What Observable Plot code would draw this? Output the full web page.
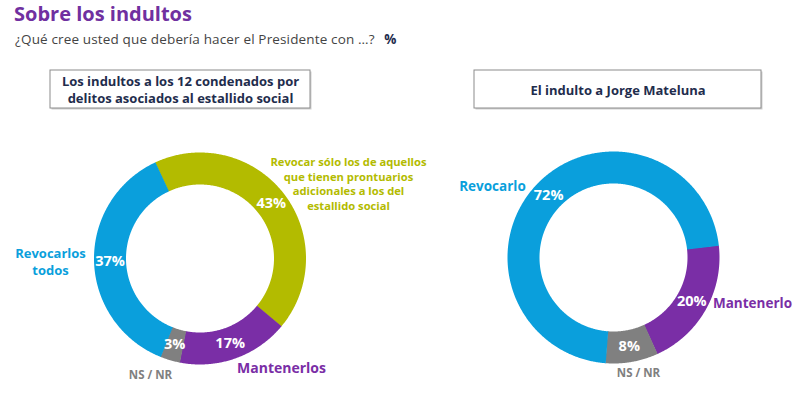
<!DOCTYPE html>
<html><head><meta charset="utf-8">
<script src="https://cdn.jsdelivr.net/npm/d3@7"></script>
<script src="https://cdn.jsdelivr.net/npm/@observablehq/plot@0.6"></script>
<style>
body{margin:0;background:#fff;font-family:"Open Sans",sans-serif;}
#head{height:56px;position:relative;}
#title{position:absolute;left:14px;top:0px;font-size:20px;font-weight:700;color:#7030a0;letter-spacing:0px;}
#subtitle{position:absolute;left:15px;top:30px;font-size:13.5px;color:#444;letter-spacing:0.15px;}
#subtitle b{color:#1f2d4d;margin-left:6px;}
</style></head>
<body>
<div id="head">
  <div id="title">Sobre los indultos</div>
  <div id="subtitle">¿Qué cree usted que debería hacer el Presidente con …? <b>%</b></div>
</div>
<div id="chart"></div>
<script>
// ---- data ----
const leftTitle = "Los indultos a los 12 condenados por\ndelitos asociados al estallido social";
const leftCategories = ["Revocar sólo los de aquellos\nque tienen prontuarios\nadicionales a los del\nestallido social", "Mantenerlos", "NS / NR", "Revocarlos\ntodos"];
const leftValues = [43, 17, 3, 37];
const rightTitle = "El indulto a Jorge Mateluna";
const rightCategories = ["Mantenerlo", "NS / NR", "Revocarlo"];
const rightValues = [20, 8, 72];

// ---- styles / layout ----
const palette = {
  "Revocar sólo los de aquellos\nque tienen prontuarios\nadicionales a los del\nestallido social": "#b3bb00",
  "Mantenerlos": "#7a2ea6", "Mantenerlo": "#7a2ea6",
  "NS / NR": "#808080",
  "Revocarlos\ntodos": "#0a9fdc", "Revocarlo": "#0a9fdc"
};
const W = 800, H = 342;
const R = 90, THICK = 32;
const charts = [
  {title: leftTitle, cats: leftCategories, vals: leftValues, cx: 199.5, cy: 202, start: -25,
   box: [50, 14, 310, 52],
   labels: {
     "Revocar sólo los de aquellos\nque tienen prontuarios\nadicionales a los del\nestallido social": [348, 127, 11.2],
     "Mantenerlos": [281, 311, 14],
     "NS / NR": [150, 318, 11.5],
     "Revocarlos\ntodos": [50, 205, 13]
   }},
  {title: rightTitle, cats: rightCategories, vals: rightValues, cx: 613, cy: 201, start: 83.5,
   box: [474, 14, 761, 52],
   labels: {
     "Mantenerlo": [752, 246, 13.5],
     "NS / NR": [638, 316, 11.5],
     "Revocarlo": [492, 129, 13.5]
   }}
];

const rad = d => d * Math.PI / 180;
const ringPts = [], pctPts = [], catPts = [], boxes = [], boxTitles = [];
charts.forEach((c, ci) => {
  const total = d3.sum(c.vals);
  let acc = c.start;
  c.cats.forEach((cat, i) => {
    const span = c.vals[i] / total * 360;
    const a0 = acc, a1 = acc + span;
    const key = ci + "-" + i;
    const n = Math.max(2, Math.ceil(span / 0.5));
    for (let k = 0; k <= n; k++) {
      const a = rad(a0 - 0.15 + (span + 0.3) * k / n);
      ringPts.push({key, color: palette[cat], x: c.cx + R * Math.sin(a), y: c.cy - R * Math.cos(a)});
    }
    const am = rad((a0 + a1) / 2);
    pctPts.push({x: c.cx + R * Math.sin(am), y: c.cy - R * Math.cos(am), text: c.vals[i] + "%"});
    const L = c.labels[cat];
    catPts.push({x: L[0], y: L[1], size: L[2], text: cat, color: palette[cat]});
    acc = a1;
  });
  boxes.push({x1: c.box[0], y1: c.box[1], x2: c.box[2], y2: c.box[3]});
  boxTitles.push({x: (c.box[0] + c.box[2]) / 2, y: (c.box[1] + c.box[3]) / 2, text: c.title});
});

const plot = Plot.plot({
  width: W, height: H, margin: 0,
  x: {domain: [0, W], range: [0, W], axis: null},
  y: {domain: [0, H], range: [0, H], axis: null},
  color: {type: "identity"},
  style: {fontFamily: "'Open Sans', sans-serif", background: "#fff"},
  marks: [
    Plot.rect(boxes, {x1: d => d.x1 + 1.5, x2: d => d.x2 + 1.5, y1: d => d.y1 + 1.5, y2: d => d.y2 + 1.5, fill: "#d0d0d0"}),
    Plot.rect(boxes, {x1: "x1", x2: "x2", y1: "y1", y2: "y2", fill: "#fff", stroke: "#8c8c8c", strokeWidth: 1}),
    Plot.text(boxTitles, {x: "x", y: "y", text: "text", fontSize: 13, fontWeight: 700, fill: "#1f2d4d", lineHeight: 1.3}),
    Plot.line(ringPts, {x: "x", y: "y", z: "key", stroke: "color", strokeWidth: THICK, strokeLinecap: "butt", strokeLinejoin: "round", curve: "linear"}),
    Plot.text(pctPts, {x: "x", y: "y", text: "text", fill: "#fff", fontSize: 14.5, fontWeight: 700}),
    ...catPts.map(d => Plot.text([d], {x: "x", y: "y", text: "text", fill: "color", fontSize: d.size, fontWeight: 700, lineHeight: 1.3}))
  ]
});
document.getElementById("chart").appendChild(plot);
</script>
</body></html>
